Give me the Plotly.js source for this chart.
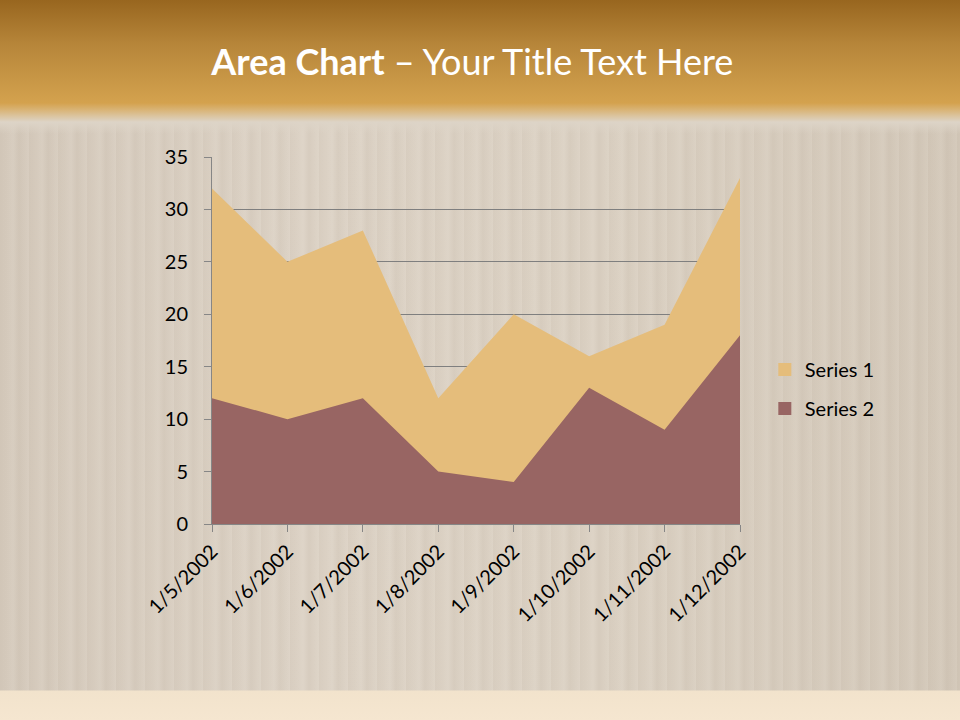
<!DOCTYPE html>
<html>
<head>
<meta charset="utf-8">
<script src="https://cdn.plot.ly/plotly-3.0.1.min.js"></script>
<style>
html,body{margin:0;padding:0;width:960px;height:720px;overflow:hidden;}
#bg{position:absolute;left:0;top:0;width:960px;height:720px;
background:
 linear-gradient(to bottom, rgba(0,0,0,0) 0px, rgba(0,0,0,0) 690px, #f2e3cc 691px, #f5e6d0 720px),
 linear-gradient(to bottom, #98661f 0px, #b7863a 45px, #d4a24e 103px, #d9b477 110px, #ddd4c7 122px, rgba(222,211,197,0) 134px),
 repeating-linear-gradient(to right, rgba(120,100,80,0.05) 0px, rgba(120,100,80,0.02) 7px, rgba(255,255,255,0.04) 13px, rgba(120,100,80,0.06) 19px, rgba(255,255,255,0.03) 29px),
 linear-gradient(to right, #d6cbbd 0px, #ddd3c6 300px, #dcd2c4 600px, #d4c9ba 960px);}
#chart{position:absolute;left:0;top:0;width:960px;height:720px;}
</style>
</head>
<body>
<div id="bg"></div>
<div id="chart"></div>
<script>
const categories = ["1/5/2002","1/6/2002","1/7/2002","1/8/2002","1/9/2002","1/10/2002","1/11/2002","1/12/2002"];
const series1 = [32, 25, 28, 12, 20, 16, 19, 33];
const series2 = [12, 10, 12, 5, 4, 13, 9, 18];
const yTicks = [0, 5, 10, 15, 20, 25, 30, 35];
const seriesNames = ["Series 1", "Series 2"];
const seriesColors = ["#e5bd7b", "#986563"];

const traces = [
  {x: categories, y: series1, name: seriesNames[0], type: "scatter", mode: "none", fill: "tozeroy", fillcolor: seriesColors[0], showlegend: false},
  {x: categories, y: series2, name: seriesNames[1], type: "scatter", mode: "none", fill: "tozeroy", fillcolor: seriesColors[1], showlegend: false}
];
seriesNames.forEach((n, i) => {
  traces.push({x: [null], y: [null], name: n, type: "scatter", mode: "markers", legendgroup: "g" + i,
    marker: {symbol: "square", size: 13, color: seriesColors[i]}});
});

const layout = {
  width: 960, height: 720,
  paper_bgcolor: "rgba(0,0,0,0)", plot_bgcolor: "rgba(0,0,0,0)",
  margin: {l: 212, r: 220, t: 157, b: 196},
  font: {family: "Lato, 'Open Sans', sans-serif", color: "#000"},
  title: {text: "<b>Area Chart</b> – Your Title Text Here", font: {size: 36, color: "#ffffff", family: "Lato, 'Open Sans', sans-serif"}, x: 0.492, xanchor: "center", y: 0.913, yanchor: "middle"},
  showlegend: true,
  legend: {x: 1.047, y: 0.368, xanchor: "left", yanchor: "middle", font: {size: 20, color: "#000"}, bgcolor: "rgba(0,0,0,0)",
    traceorder: "grouped", tracegroupgap: 10, itemwidth: 30},
  xaxis: {type: "category", range: [0, 7], showgrid: false, showline: true, linecolor: "#868686", linewidth: 1,
    ticks: "outside", ticklen: 7, tickcolor: "#868686", tickangle: -45, tickfont: {size: 20}, zeroline: false},
  yaxis: {range: [0, 35], tickvals: yTicks, showgrid: true, gridcolor: "#7f7f7f", gridwidth: 1, showline: true, linecolor: "#868686",
    ticks: "outside", ticklen: 7, tickcolor: "#868686", tickfont: {size: 20}, zeroline: false, ticklabelstandoff: 12}
};

Plotly.newPlot("chart", traces, layout, {displayModeBar: false, staticPlot: true});
</script>
</body>
</html>
